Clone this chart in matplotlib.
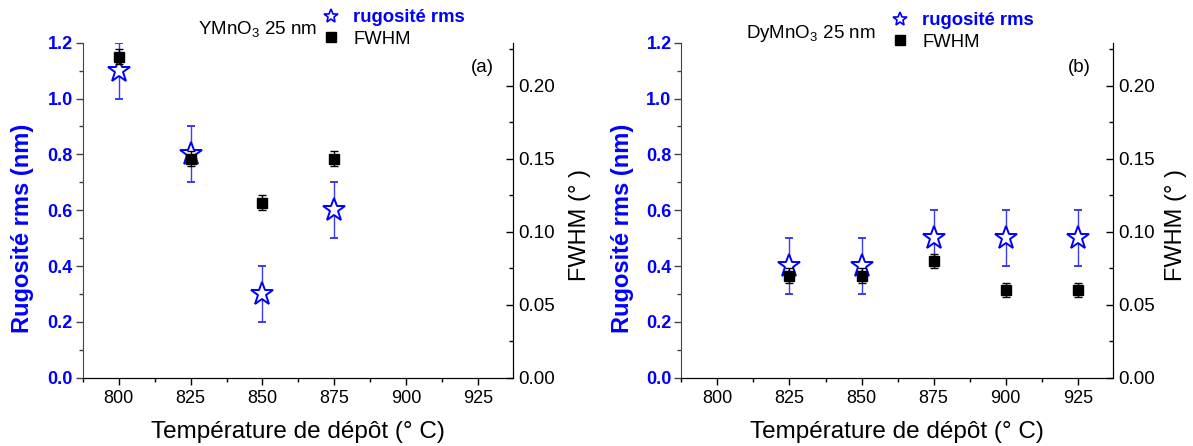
import matplotlib
matplotlib.use("Agg")
import matplotlib.pyplot as plt
from matplotlib.lines import Line2D
from matplotlib.ticker import MultipleLocator

plt.rcParams['font.family'] = ['Liberation Sans', 'DejaVu Sans']
plt.rcParams['mathtext.fontset'] = 'custom'
plt.rcParams['mathtext.rm'] = 'Liberation Sans'

# panel (a) YMnO3
temp_a = [800, 825, 850, 875]
rug_a = [1.1, 0.8, 0.3, 0.6]
rug_err_a = [0.1, 0.1, 0.1, 0.1]
fwhm_a = [0.22, 0.15, 0.12, 0.15]
fwhm_err_a = [0.005, 0.005, 0.005, 0.005]

# panel (b) DyMnO3
temp_b = [825, 850, 875, 900, 925]
rug_b = [0.4, 0.4, 0.5, 0.5, 0.5]
rug_err_b = [0.1, 0.1, 0.1, 0.1, 0.1]
fwhm_b = [0.07, 0.07, 0.08, 0.06, 0.06]
fwhm_err_b = [0.005, 0.005, 0.005, 0.005, 0.005]

xticks = [800, 825, 850, 875, 900, 925]

blue = '#0000ff'
W, H = 1193, 446
fig = plt.figure(figsize=(W / 100, H / 100), dpi=100)

panels = [
    dict(left=82.7, right=512.7, T=temp_a, R=rug_a, Re=rug_err_a, F=fwhm_a, Fe=fwhm_err_a,
         title=r'YMnO$_3$ 25 nm', tx=198, leg_x=331, tag='(a)', tagx=482, ylx=23, y2x=580, ty=30, ly=19),
    dict(left=681.3, right=1112.5, T=temp_b, R=rug_b, Re=rug_err_b, F=fwhm_b, Fe=fwhm_err_b,
         title=r'DyMnO$_3$ 25 nm', tx=746, leg_x=900, tag='(b)', tagx=1079, ylx=623, y2x=1176, ty=33, ly=22),
]

top, bottom = 42.7, 377.7
for p in panels:
    ax = fig.add_axes([p['left'] / W, 1 - bottom / H, (p['right'] - p['left']) / W, (bottom - top) / H])
    ax2 = ax.twinx()

    ax.errorbar(p['T'], p['R'], yerr=p['Re'], fmt='*', ms=17, mfc='white', mec=blue, mew=1.4,
                ecolor='#3b3bf0', elinewidth=1, capsize=3, capthick=1, zorder=3)
    ax2.errorbar(p['T'], p['F'], yerr=p['Fe'], fmt='s', ms=7, color='black',
                 ecolor='black', elinewidth=1, capsize=3, capthick=1, zorder=3)

    ax.set_xlim(787.5, 937)
    ax.set_ylim(0, 1.2)
    ax2.set_ylim(0, 0.2295)
    ax.set_xticks(xticks)
    ax.xaxis.set_minor_locator(MultipleLocator(12.5))
    ax.yaxis.set_major_locator(MultipleLocator(0.2))
    ax.yaxis.set_minor_locator(MultipleLocator(0.1))
    ax2.yaxis.set_major_locator(MultipleLocator(0.05))
    ax2.yaxis.set_minor_locator(MultipleLocator(0.025))

    ax.spines['top'].set_visible(False)
    ax2.spines['top'].set_visible(False)
    ax.spines['left'].set_color('#444444')
    ax2.spines['left'].set_visible(False)
    ax.tick_params(axis='x', which='major', direction='out', length=5, width=1, labelsize=13, pad=4)
    ax.tick_params(axis='x', which='minor', direction='out', length=3, width=1)
    ax.tick_params(axis='y', which='major', direction='out', length=5, width=1, labelsize=13,
                   labelcolor=blue, color='#444444', pad=2)
    ax.tick_params(axis='y', which='minor', direction='out', length=3, width=1, color='#444444')
    ax2.tick_params(axis='y', which='major', direction='in', length=5, width=1, labelsize=13.5, pad=4)
    ax2.tick_params(axis='y', which='minor', direction='in', length=3, width=1)
    for lab in ax.get_yticklabels():
        lab.set_fontweight('bold')
    ax.yaxis.set_major_formatter(matplotlib.ticker.FormatStrFormatter('%.1f'))
    ax2.yaxis.set_major_formatter(matplotlib.ticker.FormatStrFormatter('%.2f'))

    cx = (p['left'] + p['right']) / 2
    fig.text(cx / W, 1 - 432 / H, 'Température de dépôt (° C)', ha='center', va='center', fontsize=17.5)
    fig.text(p['ylx'] / W, 1 - 228 / H, 'Rugosité rms (nm)', ha='center', va='center', rotation=90,
             fontsize=17, fontweight='bold', color=blue)
    fig.text(p['y2x'] / W, 1 - 225 / H, 'FWHM (° )', ha='center', va='center', rotation=90, fontsize=17)
    fig.text(p['tx'] / W, 1 - p['ty'] / H, p['title'], ha='left', va='center', fontsize=13.5)
    fig.text(p['tagx'] / W, 1 - 68 / H, p['tag'], ha='center', va='center', fontsize=13.5)

    handles = [Line2D([], [], ls='none', marker='*', ms=10, mfc='white', mec=blue, mew=1.2),
               Line2D([], [], ls='none', marker='s', ms=7, color='black')]
    leg = ax2.legend(handles, ['rugosité rms', 'FWHM'], loc='upper left',
                     bbox_to_anchor=((p['leg_x'] - 9.25) / W, 1 - (p['ly'] - 10) / H),
                     bbox_transform=fig.transFigure, frameon=False, fontsize=13.3,
                     handlelength=1.0, handletextpad=0.7, borderpad=0, borderaxespad=0,
                     labelspacing=0.25)
    t0 = leg.get_texts()[0]
    t0.set_color(blue)
    t0.set_fontweight('bold')

fig.savefig('out.png', dpi=100)
